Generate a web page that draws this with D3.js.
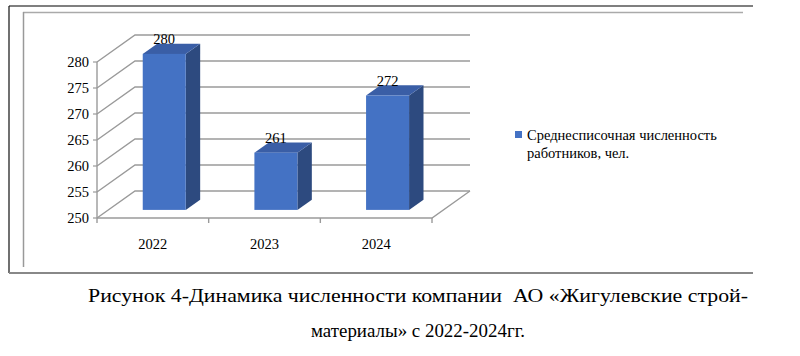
<!DOCTYPE html>
<html><head><meta charset="utf-8">
<script src="https://cdn.jsdelivr.net/npm/d3@7"></script>
</head><body style="margin:0">
<svg id="c" width="800" height="356"></svg>
<script>
const categories = ["2022","2023","2024"];
const values = [280,261,272];
const yTicks = [250,255,260,265,270,275,280];
const seriesName = ["Среднесписочная численность","работников, чел."];
const caption = ["Рисунок 4-Динамика численности компании\u00a0 АО «Жигулевские строй-","материалы» с 2022-2024гг."];

const svg = d3.select("#c");
const x = d3.scaleBand().domain(categories).range([97,432]);
const y = d3.scaleLinear().domain([250,280]).range([218,62]);
const D = {dx:38, dy:-27};
const t0 = 0.3, t1 = 0.68;
const barW = 0.385;
const txt = (sel, size)=>sel.append("text").style("font-family",'"Liberation Serif"').style("font-size", size+"px");

svg.append("line").attr("x1",9).attr("x2",753).attr("y1",6).attr("y2",6).attr("stroke","#555").attr("stroke-width",1.5);
svg.append("line").attr("x1",9).attr("x2",9).attr("y1",6).attr("y2",273).attr("stroke","#111").attr("stroke-width",1.2);
svg.append("line").attr("x1",9).attr("x2",753).attr("y1",273).attr("y2",273).attr("stroke","#888").attr("stroke-width",2);
svg.append("line").attr("x1",23).attr("x2",743).attr("y1",12.5).attr("y2",12.5).attr("stroke","#aaa").attr("stroke-width",1.5);
svg.append("line").attr("x1",23.5).attr("x2",23.5).attr("y1",12).attr("y2",267).attr("stroke","#999").attr("stroke-width",1.5);

const g = svg.append("g");
const x0 = x.range()[0], x1 = x.range()[1];
const gridC = "#9a9a9a";
yTicks.forEach(v=>{
  const yy = y(v);
  g.append("polyline").attr("points",`${x0},${yy} ${x0+D.dx},${yy+D.dy} ${x1+D.dx},${yy+D.dy}`)
   .attr("fill","none").attr("stroke",gridC).attr("stroke-width",1.4);
});
g.append("polyline").attr("points",`${x0},${y(250)} ${x1},${y(250)} ${x1+D.dx},${y(250)+D.dy}`)
 .attr("fill","none").attr("stroke",gridC).attr("stroke-width",1.4);
g.append("line").attr("x1",x0).attr("x2",x0).attr("y1",y(280)).attr("y2",y(250)).attr("stroke",gridC).attr("stroke-width",1.4);
yTicks.forEach(v=>{
  g.append("line").attr("x1",x0-4).attr("x2",x0).attr("y1",y(v)).attr("y2",y(v)).attr("stroke",gridC).attr("stroke-width",1.2);
  txt(g,14.5).attr("x",x0-8).attr("y",y(v)+5).attr("text-anchor","end").text(v);
});
const bounds = categories.map(c=>x(c)).concat([x1]);
bounds.forEach(b=>{
  g.append("line").attr("x1",b).attr("x2",b).attr("y1",y(250)).attr("y2",y(250)+5).attr("stroke",gridC).attr("stroke-width",1.4);
});
categories.forEach(c=>{
  txt(g,14.5).attr("x",x(c)+x.bandwidth()/2).attr("y",y(250)+31).attr("text-anchor","middle").text(c);
});

const bw = x.bandwidth()*barW;
categories.forEach((c,i)=>{
  const v = values[i];
  const cx = x(c)+x.bandwidth()/2;
  const fx0 = cx - bw/2 + D.dx*t0, fx1 = fx0 + bw;
  const fyTop = y(v) + D.dy*t0, fyBot = y(250) + D.dy*t0;
  const ddx = D.dx*(t1-t0), ddy = D.dy*(t1-t0);
  g.append("polygon").attr("points",`${fx1},${fyTop} ${fx1+ddx},${fyTop+ddy} ${fx1+ddx},${fyBot+ddy} ${fx1},${fyBot}`).attr("fill","#2d4a7f");
  g.append("polygon").attr("points",`${fx0},${fyTop} ${fx1},${fyTop} ${fx1+ddx},${fyTop+ddy} ${fx0+ddx},${fyTop+ddy}`).attr("fill","#3a5ea6");
  g.append("rect").attr("x",fx0).attr("y",fyTop).attr("width",bw).attr("height",fyBot-fyTop).attr("fill","#4472C4");
  txt(g,14.5).attr("x",(fx0+fx1)/2).attr("y",fyTop-10).attr("text-anchor","middle").text(v);
});

svg.append("rect").attr("x",515).attr("y",131).attr("width",7).attr("height",7).attr("fill","#4472C4");
seriesName.forEach((s,i)=>{
  txt(svg,14.5).attr("x",527).attr("y",140+i*18).text(s);
});

const capW = [660, 214];
caption.forEach((s,i)=>{
  txt(svg,19).attr("x",418).attr("y",302+i*35).attr("text-anchor","middle")
    .attr("textLength",capW[i]).attr("lengthAdjust","spacingAndGlyphs").text(s);
});
</script>
</body></html>
